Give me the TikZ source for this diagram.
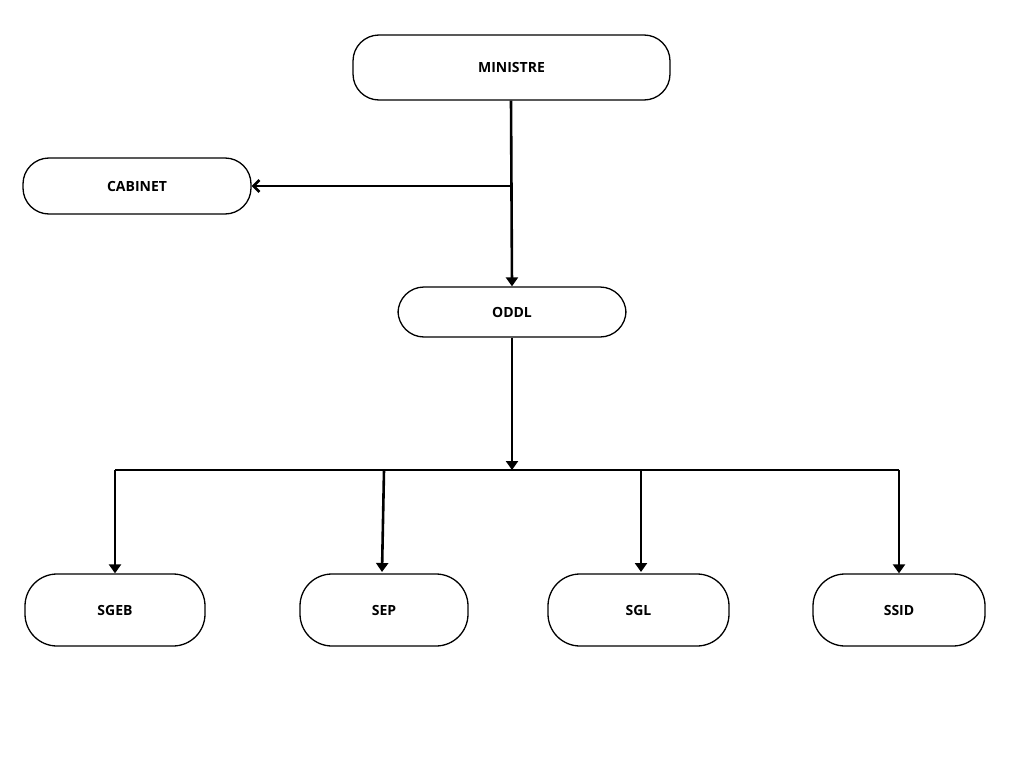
\documentclass[tikz,border=0pt]{standalone}
\usepackage{fontspec}
\setmainfont{Open Sans}
\usetikzlibrary{arrows.meta}
\begin{document}
\begin{tikzpicture}[x=1pt,y=-1pt,
  box/.style={draw,line width=1.3pt,rounded corners=26pt,minimum height=#1,inner sep=0pt,font=\bfseries\fontsize{14}{16}\selectfont},
  conn/.style={line width=2.6pt},
  tip/.style={conn,-{Triangle[length=9pt,width=12pt]}}]
\useasboundingbox[fill=white] (0,0) rectangle (1024,768);
\node[box=65pt,minimum width=317pt] (min) at (511.5,67.5) {MINISTRE};
\node[box=56pt,minimum width=228pt] (cab) at (137,186) {CABINET};
\node[box=50pt,minimum width=228pt] (oddl) at (512,312) {ODDL};
\node[box=72pt,minimum width=180pt,rounded corners=32pt] (sgeb) at (115,610) {SGEB};
\node[box=72pt,minimum width=168pt,rounded corners=32pt] (sep) at (384,610) {SEP};
\node[box=72pt,minimum width=181pt,rounded corners=32pt] (sgl) at (638.5,610) {SGL};
\node[box=72pt,minimum width=172pt,rounded corners=32pt] (ssid) at (899,610) {SSID};
\coordinate (j1) at (511,186);
\coordinate (j2) at (512,470);
\coordinate (l) at (115,470);
\coordinate (r) at (899,470);
\draw[tip] (min.south -| j1) -- (oddl.north);
\draw[conn,-{Straight Barb[length=6pt,width=12pt]}] (j1) -- (cab.east);
\draw[tip] (oddl.south) -- (j2);
\draw[conn] (l) -- (r);
\draw[tip] (l) -- (sgeb.north);
\draw[tip] (384,470) -- (382,572);
\draw[tip] (641,470) -- (641,572);
\draw[tip] (r) -- (ssid.north);
\end{tikzpicture}
\end{document}
